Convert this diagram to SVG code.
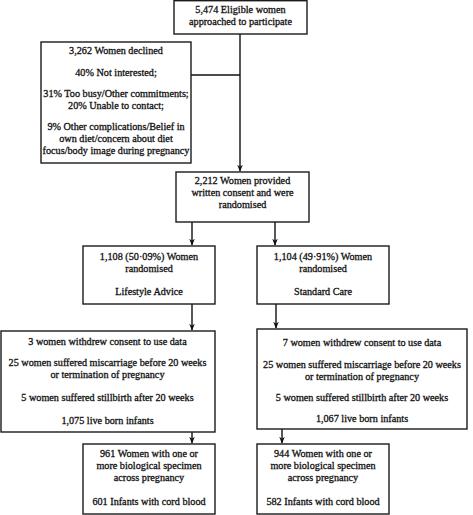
<svg xmlns="http://www.w3.org/2000/svg" width="473" height="515" viewBox="0 0 473 515">
<style>
.box{fill:#fff;stroke:#1a1a1a;stroke-width:1.4}
.ln{fill:none;stroke:#111;stroke-width:1.4}
.t{font-family:'Liberation Serif','Times New Roman',Tinos,'DejaVu Serif',serif;font-size:10.2px;fill:#111;text-anchor:middle;stroke:#111;stroke-width:0.3}
</style>
<defs>
<marker id="ah" viewBox="0 0 10 10" refX="9" refY="5" markerWidth="7" markerHeight="7" orient="auto" markerUnits="userSpaceOnUse">
<path d="M0,1 L10,5 L0,9 L3,5 Z" fill="#111"/>
</marker>
</defs>
<rect width="473" height="515" fill="#fff"/>
<g id="connectors">
<line class="ln" x1="240" y1="34" x2="240" y2="171" marker-end="url(#ah)"/>
<line class="ln" x1="191" y1="75" x2="240" y2="75"/>
<line class="ln" x1="192" y1="222" x2="192" y2="245" marker-end="url(#ah)"/>
<line class="ln" x1="275" y1="222" x2="275" y2="245" marker-end="url(#ah)"/>
<line class="ln" x1="192" y1="304" x2="192" y2="330" marker-end="url(#ah)"/>
<line class="ln" x1="276" y1="304" x2="276" y2="328" marker-end="url(#ah)"/>
<line class="ln" x1="192" y1="432" x2="192" y2="443" marker-end="url(#ah)"/>
<line class="ln" x1="282" y1="429" x2="282" y2="443" marker-end="url(#ah)"/>
</g>
<g id="eligible" class="t">
<rect class="box" x="174" y="0.7" width="133" height="33.3"/>
<text x="240.5" y="13">5,474 Eligible women</text>
<text x="240.5" y="25">approached to participate</text>
</g>
<g id="declined" class="t">
<rect class="box" x="41" y="42" width="150" height="121"/>
<text x="116" y="54">3,262 Women declined</text>
<text x="116" y="76">40% Not interested;</text>
<text x="116" y="97">31% Too busy/Other commitments;</text>
<text x="116" y="109">20% Unable to contact;</text>
<text x="116" y="130">9% Other complications/Belief in</text>
<text x="116" y="142">own diet/concern about diet</text>
<text x="116" y="154">focus/body image during pregnancy</text>
</g>
<g id="randomised" class="t">
<rect class="box" x="176" y="172" width="133" height="50"/>
<text x="242.5" y="184">2,212 Women provided</text>
<text x="242.5" y="196">written consent and were</text>
<text x="242.5" y="208">randomised</text>
</g>
<g id="lifestyle" class="t">
<rect class="box" x="83" y="246" width="132" height="58"/>
<text x="149" y="260">1,108 (50·09%) Women</text>
<text x="149" y="272">randomised</text>
<text x="149" y="295">Lifestyle Advice</text>
</g>
<g id="standard" class="t">
<rect class="box" x="257" y="246" width="132" height="58"/>
<text x="323" y="260">1,104 (49·91%) Women</text>
<text x="323" y="272">randomised</text>
<text x="323" y="295">Standard Care</text>
</g>
<g id="lifestyle-exclusions" class="t">
<rect class="box" x="1" y="331" width="214" height="101"/>
<text x="107.5" y="345">3 women withdrew consent to use data</text>
<text x="107.5" y="366">25 women suffered miscarriage before 20 weeks</text>
<text x="107.5" y="378">or termination of pregnancy</text>
<text x="107.5" y="401">5 women suffered stillbirth after 20 weeks</text>
<text x="107.5" y="424">1,075 live born infants</text>
</g>
<g id="standard-exclusions" class="t">
<rect class="box" x="257" y="329" width="210" height="100"/>
<text x="362" y="346">7 women withdrew consent to use data</text>
<text x="362" y="368">25 women suffered miscarriage before 20 weeks</text>
<text x="362" y="380">or termination of pregnancy</text>
<text x="362" y="401">5 women suffered stillbirth after 20 weeks</text>
<text x="362" y="422">1,067 live born infants</text>
</g>
<g id="lifestyle-specimens" class="t">
<rect class="box" x="83" y="444" width="132" height="70"/>
<text x="149" y="457">961 Women with one or</text>
<text x="149" y="469">more biological specimen</text>
<text x="149" y="481">across pregnancy</text>
<text x="149" y="505">601 Infants with cord blood</text>
</g>
<g id="standard-specimens" class="t">
<rect class="box" x="257" y="444" width="132" height="70"/>
<text x="323" y="457">944 Women with one or</text>
<text x="323" y="469">more biological specimen</text>
<text x="323" y="481">across pregnancy</text>
<text x="323" y="505">582 Infants with cord blood</text>
</g>
</svg>
